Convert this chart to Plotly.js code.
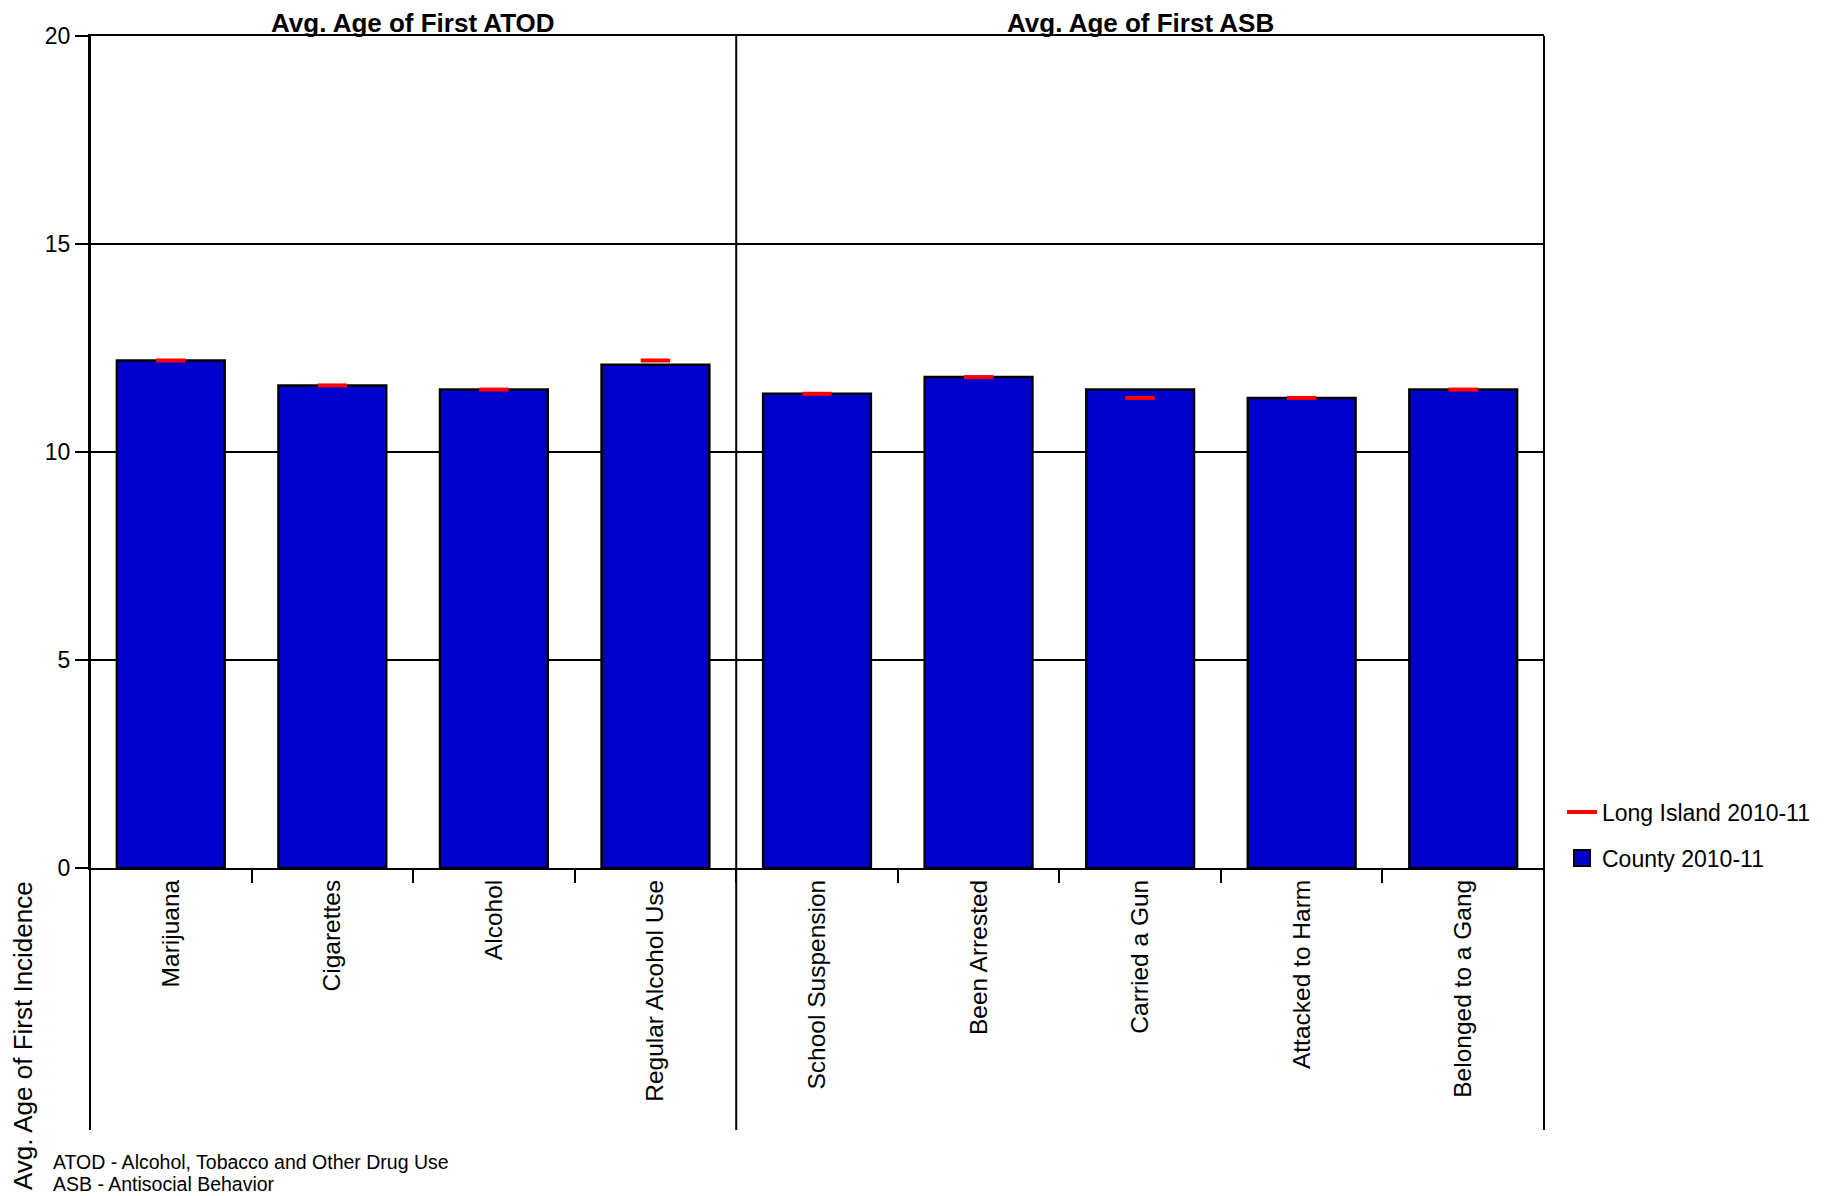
<!DOCTYPE html>
<html>
<head>
<meta charset="utf-8">
<script src="https://cdn.plot.ly/plotly-3.0.1.min.js"></script>
<style>
  html, body { margin: 0; padding: 0; background: #ffffff; }
  #chart { width: 1828px; height: 1196px; }
</style>
</head>
<body>
<div id="chart"></div>
<script>
// ---- Data ----
const categories = ["Marijuana", "Cigarettes", "Alcohol", "Regular Alcohol Use",
                    "School Suspension", "Been Arrested", "Carried a Gun", "Attacked to Harm", "Belonged to a Gang"];
const countyValues = [12.2, 11.6, 11.5, 12.1, 11.4, 11.8, 11.5, 11.3, 11.5];
const longIslandValues = [12.2, 11.6, 11.5, 12.2, 11.4, 11.8, 11.3, 11.3, 11.5];
const seriesNames = ["County 2010-11", "Long Island 2010-11"];
const groupTitles = ["Avg. Age of First ATOD", "Avg. Age of First ASB"];
const groupSizes = [4, 5];
const yTicks = [0, 5, 10, 15, 20];
const yTitle = "Avg. Age of First Incidence";
const footnotes = ["ATOD - Alcohol, Tobacco and Other Drug Use", "ASB - Antisocial Behavior"];

const FONT = "Liberation Sans, Arial, Helvetica, sans-serif";
const BLUE = "#0000CC";
const RED = "#FF0000";

// ---- Layout geometry (pixels) ----
const W = 1828, H = 1196;
const mL = 90, mR = W - 1546, mT = 36, mB = H - 868;
const plotW = W - mL - mR, plotH = H - mT - mB;
const px2x = p => (p - mL) / plotW;
const px2y = p => (H - mB - p) / plotH;

const traces = [
  {
    type: "bar", name: seriesNames[0], x: categories, y: countyValues,
    marker: { color: BLUE, line: { color: "#000000", width: 2.5 } },
    showlegend: false, hoverinfo: "x+y"
  },
  {
    type: "scatter", mode: "markers", name: seriesNames[1], x: categories, y: longIslandValues,
    marker: { symbol: "line-ew-open", size: 21, color: RED, line: { color: RED, width: 4 } },
    showlegend: false, hoverinfo: "x+y"
  },
  // legend entries
  {
    type: "scatter", mode: "lines", name: seriesNames[1], x: [null], y: [null],
    line: { color: RED, width: 4 }, legend: "legend", showlegend: true, hoverinfo: "skip"
  },
  {
    type: "scatter", mode: "markers", name: seriesNames[0], x: [null], y: [null],
    marker: { symbol: "square", size: 16, color: BLUE, line: { color: "#000000", width: 2 } },
    legend: "legend2", showlegend: true, hoverinfo: "skip"
  }
];

const nCat = categories.length;
const shapes = [];
const dividerIdx = [0, groupSizes[0], nCat];
dividerIdx.forEach(i => {
  shapes.push({
    type: "line", xref: "paper", yref: "paper",
    x0: i / nCat, x1: i / nCat, y0: 1, y1: px2y(1130),
    line: { color: "#000000", width: 2 }
  });
});

const annotations = [];
let start = 0;
groupTitles.forEach((t, gi) => {
  const center = (start + groupSizes[gi] / 2) / nCat;
  annotations.push({
    text: "<b>" + t + "</b>", xref: "paper", yref: "paper",
    x: center, y: px2y(23), xanchor: "center", yanchor: "middle",
    showarrow: false, font: { family: FONT, size: 26, color: "#000000" }
  });
  start += groupSizes[gi];
});
annotations.push({
  text: yTitle, xref: "paper", yref: "paper", textangle: -90,
  x: px2x(23), y: px2y(1036), xanchor: "center", yanchor: "middle",
  showarrow: false, font: { family: FONT, size: 26, color: "#000000" }
});
footnotes.forEach((f, i) => {
  annotations.push({
    text: f, xref: "paper", yref: "paper",
    x: px2x(51), y: px2y(1162 + i * 22), xanchor: "left", yanchor: "middle",
    showarrow: false, font: { family: FONT, size: 19.5, color: "#000000" }
  });
});

const layout = {
  width: W, height: H,
  margin: { l: mL, r: mR, t: mT, b: mB, pad: 0 },
  paper_bgcolor: "#ffffff", plot_bgcolor: "#ffffff",
  font: { family: FONT, color: "#000000" },
  bargap: 0.333,
  showlegend: true,
  xaxis: {
    type: "category", categoryorder: "array", categoryarray: categories,
    range: [-0.5, nCat - 0.5], autorange: false,
    tickangle: -90, tickfont: { family: FONT, size: 24.5, color: "#000000" },
    ticks: "outside", tickson: "boundaries", ticklen: 13, tickwidth: 2, tickcolor: "#000000",
    showline: true, linecolor: "#000000", linewidth: 2, mirror: true,
    showgrid: false, zeroline: false, fixedrange: true
  },
  yaxis: {
    range: [0, 20], autorange: false, tickvals: yTicks, ticktext: yTicks.map(String),
    tickfont: { family: FONT, size: 23, color: "#000000" },
    ticks: "outside", ticklen: 13, tickwidth: 2, tickcolor: "#000000",
    showline: true, linecolor: "#000000", linewidth: 2,
    showgrid: true, gridcolor: "#000000", gridwidth: 2,
    zeroline: false, fixedrange: true
  },
  legend: {
    x: px2x(1564), y: px2y(812), xanchor: "left", yanchor: "middle",
    bgcolor: "rgba(0,0,0,0)", borderwidth: 0,
    font: { family: FONT, size: 23, color: "#000000" }
  },
  legend2: {
    x: px2x(1564), y: px2y(858), xanchor: "left", yanchor: "middle",
    bgcolor: "rgba(0,0,0,0)", borderwidth: 0,
    font: { family: FONT, size: 23, color: "#000000" }
  },
  shapes: shapes,
  annotations: annotations
};

Plotly.newPlot("chart", traces, layout, { displayModeBar: false, staticPlot: true });
</script>
</body>
</html>
